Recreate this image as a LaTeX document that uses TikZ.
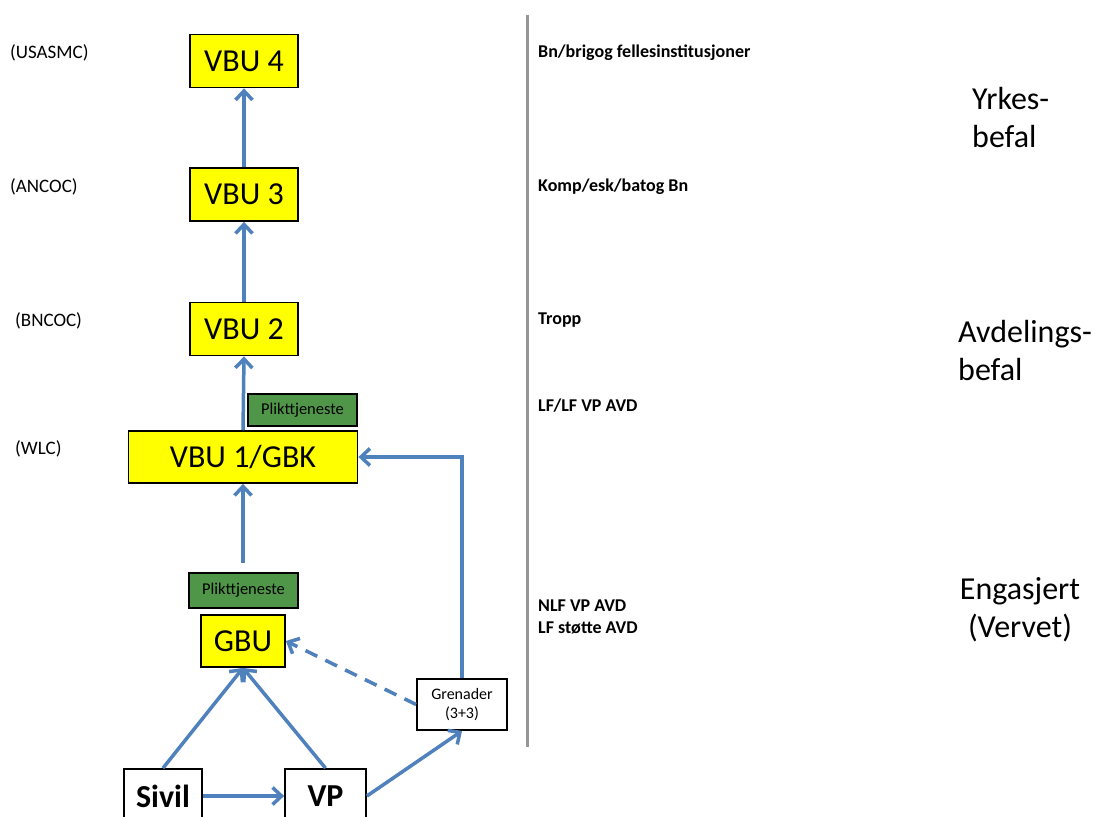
\documentclass[tikz,border=0pt]{standalone}
\usepackage{fontspec}
\setmainfont{Carlito}
\usetikzlibrary{arrows.meta,positioning}
\definecolor{yel}{RGB}{255,255,0}
\definecolor{grn}{RGB}{80,150,72}
\definecolor{blu}{RGB}{79,129,189}
\definecolor{gry}{RGB}{150,150,150}
\tikzset{
  ybox/.style={draw=black,line width=1.8pt,fill=yel,inner sep=0pt,font=\fontsize{32}{38}\selectfont},
  gbox/.style={draw=black,line width=1.8pt,fill=grn,inner sep=0pt,minimum width=109pt,font=\fontsize{16.5}{18}\selectfont},
  wbox/.style={draw=black,line width=1.8pt,fill=white,inner sep=0pt,font=\bfseries\fontsize{32}{38}\selectfont},
  arr/.style={draw=blu,line width=3.5pt,-{Straight Barb[length=9pt,width=17pt]}},
  lft/.style={anchor=west,inner sep=0pt,font=\fontsize{19}{22}\selectfont},
  rgt/.style={anchor=west,inner sep=0pt,font=\bfseries\fontsize{18}{22}\selectfont},
  big/.style={inner sep=0pt,font=\fontsize{32}{38}\selectfont}
}
\begin{document}
\begin{tikzpicture}[x=1pt,y=-1pt]
\clip (0,0) rectangle (1094,816);
\fill[white] (0,0) rectangle (1094,816);

% yellow boxes
\node[ybox,minimum width=108pt,minimum height=53pt] (vbu4) at (244,61) {VBU 4};
\node[ybox,minimum width=108pt,minimum height=53pt] (vbu3) at (244,194.5) {VBU 3};
\node[ybox,minimum width=108pt,minimum height=53pt] (vbu2) at (244,329) {VBU 2};
\node[ybox,minimum width=229pt,minimum height=52pt] (vbu1) at (243,457) {VBU 1/GBK};
\node[ybox,minimum width=84pt,minimum height=52pt] (gbu) at (243,641) {GBU};

% green boxes
\node[gbox,minimum height=32pt] (pl1) at (302.5,410) {Plikttjeneste};
\node[gbox,minimum height=35pt] (pl2) at (243.5,590.5) {Plikttjeneste};

% white boxes
\node[draw=black,line width=1.8pt,fill=white,inner sep=0pt,minimum width=90pt,minimum height=51pt,align=center,font=\fontsize{16}{19.5}\selectfont] (gren) at (462,704.5) {Grenader\\(3+3)};
\node[wbox,minimum width=78pt,minimum height=54pt] (sivil) at (163,796) {Sivil};
\node[wbox,minimum width=81pt,minimum height=54pt] (vp) at (325.5,796) {VP};

% connectors
\coordinate (s1) at (243,563);
\draw[arr] (vbu3.north) -- (vbu4.south);
\draw[arr] (vbu2.north) -- (vbu3.south);
\draw[arr] (vbu1.north) -- (vbu2.south);
\draw[arr] (s1) -- (vbu1.south);
\draw[arr] (sivil.north) -- (gbu.south);
\draw[arr] (vp.north) -- (gbu.south);
\draw[arr] (sivil.east) -- (vp.west);
\draw[arr] (vp.east) -- (gren.south);
\draw[arr,dash pattern=on 13pt off 9pt] (gren.west) -- (gbu.east);
\draw[arr] (gren.north) |- (vbu1.east);

% separator
\coordinate (t1) at (527,15);
\coordinate (t2) at (527,747);
\draw[gry,line width=3pt] (t1) -- (t2);

% left labels
\node[lft] (l4) at (10,53) {(USASMC)};
\node[lft] (l3) at (10,187) {(ANCOC)};
\node[lft] (l2) at (15,321) {(BNCOC)};
\node[lft] (l1) at (15,449) {(WLC)};

% right labels
\node[rgt] (r4) at (538,53) {Bn/brigog fellesinstitusjoner};
\node[rgt] (r3) at (538,187) {Komp/esk/batog Bn};
\node[rgt] (r2) at (538,320) {Tropp};
\node[rgt] (r1) at (538,406) {LF/LF VP AVD};
\node[rgt,align=left,anchor=north west] (r0) at (538,600) {NLF VP AVD\\LF støtte AVD};

% category labels
\node[big,align=left,anchor=north west] (c1) at (972,87) {Yrkes-\\befal};
\node[big,align=left,anchor=north west] (c2) at (958,320) {Avdelings-\\befal};
\node[big,align=center,anchor=north] (c3) at (1020,577) {Engasjert\\(Vervet)};
\end{tikzpicture}
\end{document}
